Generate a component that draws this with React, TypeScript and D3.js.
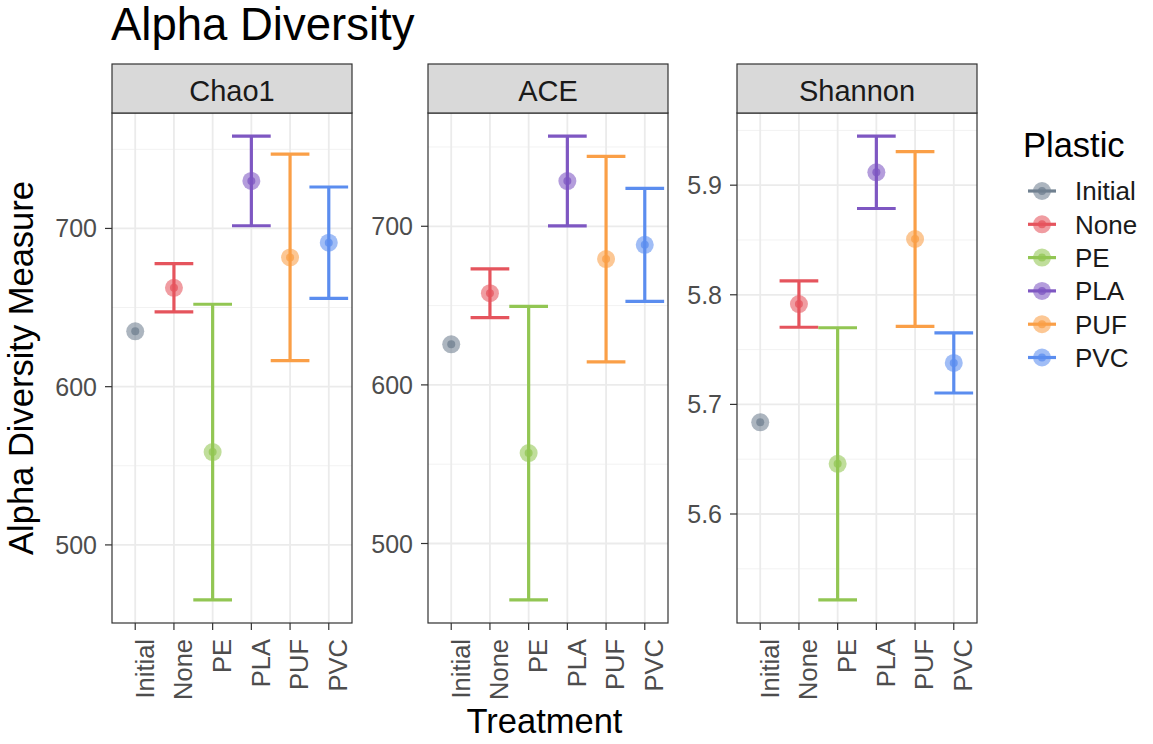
import React from "react";
import * as d3 from "d3";

// Treatments on the x axis (one colour each in the legend)
const treatments = ["Initial", "None", "PE", "PLA", "PUF", "PVC"];
const plasticColors = ["#708090", "#E5545D", "#92C653", "#7E57C2", "#FA9F47", "#5B8DEF"];

// Mean and standard error per treatment (Initial is a single sample, no error bar)
const chao1Mean = [635, 662.5, 558.7, 730, 681.7, 691];
const chao1Se = [null, 15.2, 93.4, 28.3, 65.2, 35.2];
const aceMean = [625.6, 657.8, 557, 728.5, 679.3, 688.3];
const aceSe = [null, 15.4, 92.5, 28.3, 64.8, 35.6];
const shannonMean = [5.6836, 5.7915, 5.6458, 5.9117, 5.8509, 5.7378];
const shannonSe = [null, 0.0211, 0.1241, 0.033, 0.0797, 0.0274];

// Axis breaks per facet
const chao1Ticks = [500, 600, 700];
const aceTicks = [500, 600, 700];
const shannonTicks = [5.6, 5.7, 5.8, 5.9];

const measures = ["Chao1", "ACE", "Shannon"];

const W = 1153;
const H = 744;
const FONT = "'Liberation Sans', Arial, Helvetica, sans-serif";
const panelLefts = [112, 428, 737];
const panelW = 240;
const panelTop = 113;
const panelBottom = 623;
const stripTop = 64;

type Facet = {
  name: string;
  mean: number[];
  se: (number | null)[];
  ticks: number[];
  left: number;
  fmt: (v: number) => string;
};

const facets: Facet[] = [
  { name: measures[0], mean: chao1Mean, se: chao1Se, ticks: chao1Ticks, left: panelLefts[0], fmt: d3.format("d") },
  { name: measures[1], mean: aceMean, se: aceSe, ticks: aceTicks, left: panelLefts[1], fmt: d3.format("d") },
  { name: measures[2], mean: shannonMean, se: shannonSe, ticks: shannonTicks, left: panelLefts[2], fmt: d3.format(".1f") },
];

function Panel({ f }: { f: Facet }) {
  const lo = d3.min(f.mean.map((m, i) => m - (f.se[i] ?? 0)))!;
  const hi = d3.max(f.mean.map((m, i) => m + (f.se[i] ?? 0)))!;
  const pad = (hi - lo) * 0.05;
  const y = d3.scaleLinear().domain([lo - pad, hi + pad]).range([panelBottom, panelTop]);
  const x = d3.scalePoint<string>().domain(treatments).range([f.left, f.left + panelW]).padding(0.6);
  const step = x.step();
  const [d0, d1] = y.domain();
  const half = (f.ticks[1] - f.ticks[0]) / 2;
  const minor = [f.ticks[0] - half, ...f.ticks.map((t) => t + half)].filter((v) => v >= d0 && v <= d1);

  return (
    <g>
      {/* panel background & grid */}
      <rect x={f.left} y={panelTop} width={panelW} height={panelBottom - panelTop} fill="#fff" />
      {minor.map((v) => (
        <line key={"mn" + v} x1={f.left} x2={f.left + panelW} y1={y(v)} y2={y(v)} stroke="#f2f2f2" strokeWidth={1} />
      ))}
      {f.ticks.map((v) => (
        <line key={"mj" + v} x1={f.left} x2={f.left + panelW} y1={y(v)} y2={y(v)} stroke="#ebebeb" strokeWidth={1.8} />
      ))}
      {treatments.map((t) => (
        <line key={"vx" + t} x1={x(t)} x2={x(t)} y1={panelTop} y2={panelBottom} stroke="#ebebeb" strokeWidth={1.8} />
      ))}

      {/* error bars */}
      {treatments.map((t, i) => {
        const se = f.se[i];
        if (se == null) return null;
        const cx = x(t)!;
        const yt = y(f.mean[i] + se);
        const yb = y(f.mean[i] - se);
        return (
          <g key={"eb" + t} stroke={plasticColors[i]} strokeWidth={3.2} fill="none">
            <line x1={cx} x2={cx} y1={yt} y2={yb} />
            <line x1={cx - step / 2} x2={cx + step / 2} y1={yt} y2={yt} />
            <line x1={cx - step / 2} x2={cx + step / 2} y1={yb} y2={yb} />
          </g>
        );
      })}

      {/* means */}
      {treatments.map((t, i) => (
        <g key={"pt" + t}>
          <circle cx={x(t)} cy={y(f.mean[i])} r={9} fill={plasticColors[i]} opacity={0.58} />
          <circle cx={x(t)} cy={y(f.mean[i])} r={4} fill={plasticColors[i]} opacity={0.75} />
        </g>
      ))}

      {/* border */}
      <rect x={f.left} y={panelTop} width={panelW} height={panelBottom - panelTop} fill="none" stroke="#333" strokeWidth={1.2} />

      {/* strip */}
      <rect x={f.left} y={stripTop} width={panelW} height={panelTop - stripTop} fill="#d9d9d9" stroke="#333" strokeWidth={1.2} />
      <text x={f.left + panelW / 2} y={100.5} textAnchor="middle" fontSize={29} fill="#1a1a1a" fontFamily={FONT}>
        {f.name}
      </text>

      {/* y axis */}
      {f.ticks.map((v) => (
        <g key={"yt" + v}>
          <line x1={f.left - 7} x2={f.left} y1={y(v)} y2={y(v)} stroke="#333" strokeWidth={1.2} />
          <text x={f.left - 15} y={y(v)} dy="0.36em" textAnchor="end" fontSize={25} fill="#4d4d4d" fontFamily={FONT}>
            {f.fmt(v)}
          </text>
        </g>
      ))}

      {/* x axis */}
      {treatments.map((t) => (
        <g key={"xt" + t}>
          <line x1={x(t)} x2={x(t)} y1={panelBottom} y2={panelBottom + 7} stroke="#333" strokeWidth={1.2} />
          <text
            transform={`translate(${x(t)},${639}) rotate(-90)`}
            dy="0.72em"
            textAnchor="end"
            fontSize={25.5}
            fill="#4d4d4d"
            fontFamily={FONT}
          >
            {t}
          </text>
        </g>
      ))}
    </g>
  );
}

export default function App() {
  const legendY = d3.scalePoint<string>().domain(treatments).range([191, 357.5]);
  return (
    <svg
      width={W}
      height={H}
      viewBox={`0 0 ${W} ${H}`}
      style={{ position: "absolute", left: 0, top: 0, background: "#fff" }}
    >
      <rect width={W} height={H} fill="#fff" />
      <text x={111} y={40} fontSize={45.5} fill="#000" fontFamily={FONT}>
        Alpha Diversity
      </text>

      {facets.map((f) => (
        <Panel key={f.name} f={f} />
      ))}

      {/* axis titles */}
      <text
        transform={`translate(33,${(panelTop + panelBottom) / 2}) rotate(-90)`}
        textAnchor="middle"
        fontSize={34.5}
        fill="#000"
        fontFamily={FONT}
      >
        Alpha Diversity Measure
      </text>
      <text x={(panelLefts[0] + panelLefts[2] + panelW) / 2} y={733} textAnchor="middle" fontSize={34.5} fill="#000" fontFamily={FONT}>
        Treatment
      </text>

      {/* legend */}
      <text x={1023} y={157} fontSize={34.5} fill="#000" fontFamily={FONT}>
        Plastic
      </text>
      {treatments.map((t, i) => {
        const ly = legendY(t)!;
        return (
          <g key={"lg" + t}>
            <line x1={1028} x2={1056} y1={ly} y2={ly} stroke={plasticColors[i]} strokeWidth={3.2} />
            <circle cx={1042} cy={ly} r={9} fill={plasticColors[i]} opacity={0.58} />
            <circle cx={1042} cy={ly} r={4} fill={plasticColors[i]} opacity={0.75} />
            <text x={1075} y={ly} dy="0.36em" fontSize={26} fill="#1a1a1a" fontFamily={FONT}>
              {t}
            </text>
          </g>
        );
      })}
    </svg>
  );
}
